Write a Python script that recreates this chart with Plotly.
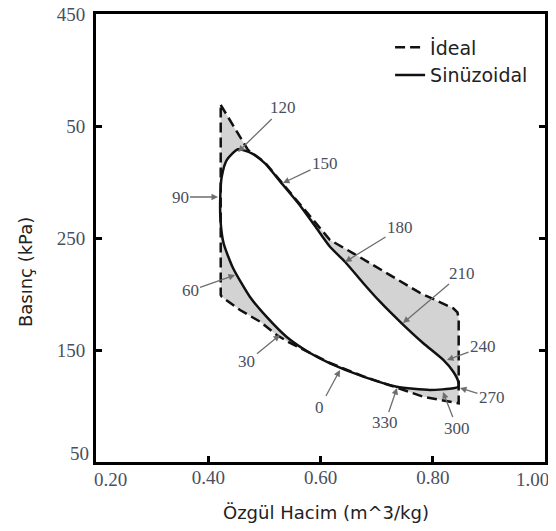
import plotly.graph_objects as go

# --- Data ---
# Ideal cycle (dashed), closed loop: specific volume (m^3/kg), pressure (kPa)
ideal_v = [0.4222, 0.4708, 0.5011, 0.5309, 0.5635, 0.6169, 0.6584, 0.7773, 0.8366, 0.8440,
           0.8462, 0.8462, 0.7832, 0.7358, 0.6763, 0.6169, 0.5813, 0.5457, 0.5220,
           0.4922, 0.4566, 0.4240, 0.4222, 0.4222]
ideal_p = [368.8, 328.6, 317.4, 299.5, 279.5, 248.2, 236.3, 201.0, 187.2, 183.5,
           178.0, 102.4, 108.3, 116.1, 126.5, 138.4, 147.7, 156.3, 163.4,
           175.3, 185.7, 197.6, 199.1, 368.8]

# Sinusoidal cycle (solid), closed loop
sin_v = [0.8455, 0.8455, 0.8366, 0.8188, 0.7832, 0.7447, 0.7060, 0.6763, 0.6436, 0.6169,
         0.5902, 0.5604, 0.5309, 0.5011, 0.4774, 0.4530, 0.4329, 0.4240, 0.4215, 0.4218,
         0.4272, 0.4441, 0.4744, 0.5041, 0.5398, 0.5813, 0.6169, 0.6763, 0.7358, 0.7951,
         0.8366, 0.8455]
sin_p = [117.2, 121.7, 130.6, 141.1, 156.0, 173.8, 193.1, 209.6, 228.8, 242.2,
         260.7, 281.0, 298.8, 316.7, 325.6, 329.2, 319.6, 304.7, 288.4, 266.1,
         245.5, 223.2, 197.3, 179.5, 161.6, 147.3, 138.1, 126.2, 117.2, 114.3,
         115.8, 117.2]

# Crank-angle markers on the cycle
angle_labels = ["0", "30", "60", "90", "120", "150", "180", "210", "240", "270", "300", "330"]
angle_v = [0.6347, 0.5278, 0.4477, 0.4174, 0.4530, 0.5332, 0.6437, 0.7470, 0.8254, 0.8485, 0.8183, 0.7363]
angle_p = [132.1, 163.4, 217.0, 286.6, 326.8, 299.1, 228.6, 174.1, 141.1, 116.1, 112.5, 116.1]

# Axis ticks
x_ticks = [0.20, 0.40, 0.60, 0.80, 1.00]
x_tick_text = ["", "0.40", "0.60", "0.80", ""]
y_ticks = [50, 150, 250, 350, 450]
y_tick_text = ["", "150", "250", "50", "450"]

# label offsets in pixels (layout only)
label_offsets = [(-20, 37), (-33, 27), (-45, 16), (-38, 0), (45, -44), (42, -20),
                 (55, -34), (59, -50), (36, -13), (32, 10), (14, 36), (-12, 35)]

GRAY_FILL = "#d3d3d3"
TICK_FONT = dict(family="Liberation Serif", size=19, color="#4a4f60")
LABEL_FONT = dict(family="Liberation Serif", size=17, color="#4a4f60")
SANS = "DejaVu Sans"

fig = go.Figure()
fig.add_trace(go.Scatter(x=ideal_v, y=ideal_p, mode="lines", fill="toself",
                         fillcolor=GRAY_FILL, line=dict(width=0), showlegend=False,
                         hoverinfo="skip"))
fig.add_trace(go.Scatter(x=sin_v, y=sin_p, mode="lines", fill="toself",
                         fillcolor="white", line=dict(width=0, shape="spline", smoothing=0.6),
                         showlegend=False, hoverinfo="skip"))
fig.add_trace(go.Scatter(x=ideal_v, y=ideal_p, mode="lines", name="İdeal",
                         line=dict(color="#111111", width=2.5, dash="10px,5px")))
fig.add_trace(go.Scatter(x=sin_v, y=sin_p, mode="lines", name="Sinüzoidal",
                         line=dict(color="#111111", width=2.5, shape="spline", smoothing=0.6)))

annotations = []
for lab, v, p, (dx, dy) in zip(angle_labels, angle_v, angle_p, label_offsets):
    annotations.append(dict(x=v, y=p, xref="x", yref="y", text=lab, showarrow=True,
                            ax=dx, ay=dy, arrowhead=2, arrowsize=1, arrowwidth=1.3,
                            arrowcolor="#6e6e6e", standoff=0, font=LABEL_FONT))

# corner tick labels (shifted in the reference)
annotations += [
    dict(x=x_ticks[0], y=y_ticks[0], xref="x", yref="y", text="0.20", showarrow=False,
         xanchor="center", yanchor="top", xshift=14, yshift=-5, font=TICK_FONT),
    dict(x=x_ticks[-1], y=y_ticks[0], xref="x", yref="y", text="1.00", showarrow=False,
         xanchor="center", yanchor="top", xshift=-13, yshift=-5, font=TICK_FONT),
    dict(x=x_ticks[0], y=y_ticks[0], xref="x", yref="y", text="50", showarrow=False,
         xanchor="right", yanchor="middle", xshift=-5, yshift=9, font=TICK_FONT),
    dict(x=-0.158, y=0.424, xref="paper", yref="paper", text="Basınç (kPa)",
         xanchor="center", yanchor="middle",
         showarrow=False, textangle=-90, font=dict(family=SANS, size=18, color="#222222")),
    dict(x=0.513, y=-0.112, xref="paper", yref="paper", text="Özgül Hacim (m^3/kg)",
         xanchor="center", yanchor="middle",
         showarrow=False, font=dict(family=SANS, size=18, color="#222222")),
]

# page body adds an 8px offset, so the figure is sized/margined to compensate
fig.update_layout(
    width=548, height=523,
    margin=dict(l=88, r=11, t=6, b=69),
    paper_bgcolor="white", plot_bgcolor="white",
    showlegend=True,
    legend=dict(x=0.655, y=0.968, xanchor="left", yanchor="top",
                bgcolor="rgba(0,0,0,0)", font=dict(family=SANS, size=19, color="#222222"),
                itemwidth=30, tracegroupgap=0),
    annotations=annotations,
)
fig.update_xaxes(range=[0.2, 1.0], tickvals=x_ticks, ticktext=x_tick_text, automargin=False,
                 showgrid=False, zeroline=False, showline=True, linecolor="black",
                 linewidth=3, mirror=True, ticks="inside", ticklen=6, tickwidth=2.5,
                 tickcolor="black", tickfont=TICK_FONT, ticklabelstandoff=-4,
                 ticklabeloverflow="allow")
fig.update_yaxes(range=[50, 450], tickvals=y_ticks, ticktext=y_tick_text, automargin=False,
                 showgrid=False, zeroline=False, showline=True, linecolor="black",
                 linewidth=3, mirror="ticks", ticks="inside", ticklen=6, tickwidth=2.5,
                 tickcolor="black", tickfont=TICK_FONT, ticklabelstandoff=4,
                 ticklabeloverflow="allow")

fig.write_html("out.html")
